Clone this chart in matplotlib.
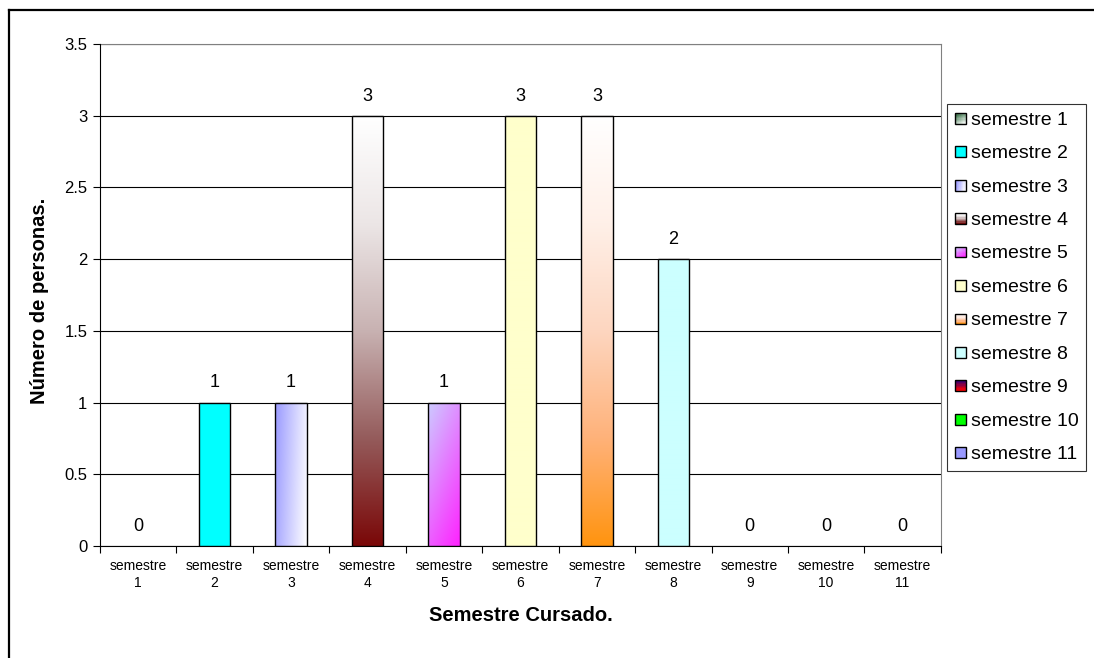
import numpy as np
import matplotlib.pyplot as plt
from matplotlib.colors import to_rgb
from matplotlib.patches import Rectangle
from matplotlib.legend_handler import HandlerBase
from matplotlib.lines import Line2D

plt.rcParams['font.family'] = ['Liberation Sans', 'DejaVu Sans']

semestres = ['semestre 1', 'semestre 2', 'semestre 3', 'semestre 4', 'semestre 5', 'semestre 6',
             'semestre 7', 'semestre 8', 'semestre 9', 'semestre 10', 'semestre 11']
tick_labels = ['semestre\n1', 'semestre\n2', 'semestre\n3', 'semestre\n4', 'semestre\n5', 'semestre\n6',
               'semestre\n7', 'semestre\n8', 'semestre\n9', 'semestre\n10', 'semestre\n11']
personas = [0, 1, 1, 3, 1, 3, 3, 2, 0, 0, 0]

# fill of each series: (colour stops, direction)
# 'v' = top to bottom, 'h' = left to right, 'd' = top-left to bottom-right
fills = [(['#2f6a3f', '#f4f8f4'], 'd'),
         (['#00ffff', '#00ffff'], 'v'),
         (['#9999ff', '#ffffff'], 'h'),
         (['#ffffff', '#ece6e6', '#c8b2b2', '#955c5c', '#7a0808'], 'v'),
         (['#ccccff', '#ff22ff'], 'd'),
         (['#ffffcc', '#ffffcc'], 'v'),
         (['#ffffff', '#fff0e8', '#fdd6c0', '#ffb27a', '#ff9410'], 'v'),
         (['#ccffff', '#ccffff'], 'v'),
         (['#3a0070', '#ff0000'], 'v'),
         (['#00ff00', '#00ff00'], 'v'),
         (['#9999ff', '#9999ff'], 'v')]


def blend(stops, t):
    cols = np.array([to_rgb(c) for c in stops])
    pos = np.linspace(0, 1, len(stops))
    t = np.asarray(t, dtype=float)
    return np.stack([np.interp(t, pos, cols[:, k]) for k in range(3)], axis=-1)


def gradient(stops, how, n=128):
    yy, xx = np.mgrid[0:1:n * 1j, 0:1:n * 1j]
    if how == 'v':
        t = yy
    elif how == 'h':
        t = 0.85 * xx + 0.15 * yy
    else:
        t = 0.35 * xx + 0.65 * yy
    return blend(stops, t)


class GradientHandler(HandlerBase):
    def create_artists(self, legend, orig_handle, xdescent, ydescent, width, height, fontsize, trans):
        stops, how = orig_handle.fill
        side = min(width, height)
        x0 = -xdescent + (width - side) / 2
        y0 = -ydescent
        arts = []
        n = 8
        for i in range(n):
            for j in range(n):
                fx = i / (n - 1)
                fy = (n - 1 - j) / (n - 1)
                if how == 'v':
                    t = fy
                elif how == 'h':
                    t = 0.85 * fx + 0.15 * fy
                else:
                    t = 0.35 * fx + 0.65 * fy
                r = Rectangle((x0 + i * side / n, y0 + j * side / n), side / n, side / n,
                              facecolor=blend(stops, t), edgecolor='none', transform=trans)
                arts.append(r)
        arts.append(Rectangle((x0, y0), side, side, facecolor='none', edgecolor='black',
                              linewidth=1.0, transform=trans))
        return arts


fig = plt.figure(figsize=(10.94, 6.58), dpi=100)
ax = fig.add_axes([0.0914, 0.1702, 0.7686, 0.7629])

x = np.arange(len(personas))
bw = 0.41
for i, v in enumerate(personas):
    stops, how = fills[i]
    if v > 0:
        rect = Rectangle((x[i] - bw / 2, 0), bw, v, facecolor='none', edgecolor='black',
                         linewidth=1.0, zorder=4)
        ax.add_patch(rect)
        im = ax.imshow(gradient(stops, how), extent=[x[i] - bw / 2, x[i] + bw / 2, 0, v],
                       aspect='auto', origin='upper', zorder=3, interpolation='bilinear')
        im.set_clip_path(rect)
    ax.annotate(str(v), (x[i], v), xytext=(0, 8), textcoords='offset points',
                ha='center', va='bottom', fontsize=13)

ax.set_xlim(-0.5, 10.5)
ax.set_ylim(0, 3.5)
ax.set_yticks(np.arange(0, 3.51, 0.5))
ax.set_yticklabels(['0', '0.5', '1', '1.5', '2', '2.5', '3', '3.5'], fontsize=12)
ax.set_xticks(x)
ax.set_xticklabels(tick_labels, fontsize=10, linespacing=1.3)
ax.set_xticks(np.arange(-0.5, 11, 1), minor=True)
ax.tick_params(axis='x', which='major', length=0, pad=9)
ax.tick_params(axis='x', which='minor', length=5, direction='out', width=0.8)
ax.tick_params(axis='y', length=5, direction='out', width=0.8, pad=4)
ax.yaxis.grid(True, color='black', linewidth=0.8)
ax.set_axisbelow(True)
for s in ['top', 'right']:
    ax.spines[s].set_color('#808080')
for s in ['left', 'bottom']:
    ax.spines[s].set_color('black')
ax.spines['left'].set_zorder(5)

ax.set_ylabel('Número de personas.', fontsize=14.5, fontweight='bold')
ax.yaxis.set_label_coords(-0.061, 0.488)
ax.set_xlabel('Semestre Cursado.', fontsize=14.5, fontweight='bold', labelpad=12)

handles = []
for f in fills:
    h = Line2D([], [])
    h.fill = f
    handles.append(h)
leg = fig.legend(handles, semestres, loc='upper left', bbox_to_anchor=(0.866, 0.842),
                 fontsize=14, frameon=True, fancybox=False, edgecolor='black',
                 handler_map={Line2D: GradientHandler()}, handlelength=0.55, handleheight=0.55,
                 handletextpad=0.25, labelspacing=0.845, borderpad=0.4, borderaxespad=0)
leg.get_frame().set_linewidth(0.8)

# outer chart border
fig.add_artist(Line2D([9 / 1094, 1], [1 - 10 / 658, 1 - 10 / 658], color='black', linewidth=1.6,
                      transform=fig.transFigure))
fig.add_artist(Line2D([9 / 1094, 9 / 1094], [0, 1 - 10 / 658], color='black', linewidth=1.6,
                      transform=fig.transFigure))

fig.savefig('out.png', dpi=100)
